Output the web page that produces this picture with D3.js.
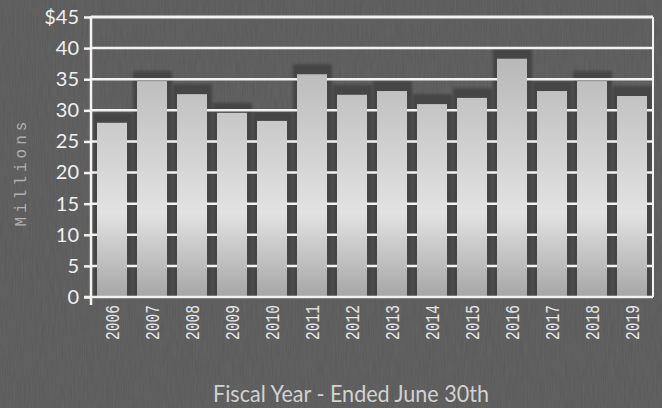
<!DOCTYPE html>
<html>
<head>
<meta charset="utf-8">
<script src="https://cdn.jsdelivr.net/npm/d3@7"></script>
<style>
    html, body { margin: 0; padding: 0; background: #585858; }
    svg { display: block; }
</style>
</head>
<body>
<svg id="chart" width="662" height="408"></svg>
<script>
// Chart data
const years = ['2006', '2007', '2008', '2009', '2010', '2011', '2012', '2013', '2014', '2015', '2016', '2017', '2018', '2019'];
const millions = [28.0, 34.7, 32.6, 29.6, 28.3, 35.8, 32.5, 33.1, 31.0, 32.0, 38.3, 33.1, 34.7, 32.3];
const yTicks = [0, 5, 10, 15, 20, 25, 30, 35, 40, 45];

const width = 662;
const height = 408;
const margin = { top: 17, right: 9, bottom: 111, left: 91 };

const svg = d3.select('#chart');

const defs = svg.append('defs');
const grad = defs.append('linearGradient')
    .attr('id', 'barGrad')
    .attr('gradientUnits', 'userSpaceOnUse')
    .attr('x1', 0).attr('y1', margin.top)
    .attr('x2', 0).attr('y2', height - margin.bottom);
grad.append('stop').attr('offset', '0%').attr('stop-color', '#adadad');
grad.append('stop').attr('offset', '70%').attr('stop-color', '#e2e2e2');
grad.append('stop').attr('offset', '100%').attr('stop-color', '#a6a6a6');

// light texture on the background
const noise = defs.append('filter').attr('id', 'noise');
noise.append('feTurbulence')
    .attr('type', 'fractalNoise')
    .attr('baseFrequency', '0.9 0.05')
    .attr('numOctaves', 2)
    .attr('seed', 3);
noise.append('feColorMatrix')
    .attr('values', '0 0 0 0 0.35  0 0 0 0 0.35  0 0 0 0 0.35  0 0 0 0.35 0');
noise.append('feComposite').attr('in2', 'SourceGraphic').attr('operator', 'in');

const blur = defs.append('filter').attr('id', 'soft');
blur.append('feGaussianBlur').attr('stdDeviation', 1.5);

svg.append('rect')
    .attr('width', width).attr('height', height)
    .attr('fill', '#595959');
svg.append('rect')
    .attr('width', width).attr('height', height)
    .attr('fill', '#595959')
    .attr('filter', 'url(#noise)')
    .attr('opacity', 0.5);

const x = d3.scaleBand()
    .domain(years)
    .range([margin.left, width - margin.right])
    .paddingInner(0.25)
    .paddingOuter(0.15);

const y = d3.scaleLinear()
    .domain([0, 45])
    .range([height - margin.bottom, margin.top]);

const gap = x.step() - x.bandwidth();

// Bar shadows (dark band around / above each bar)
svg.append('g')
    .attr('filter', 'url(#soft)')
    .selectAll('rect')
    .data(millions)
    .enter().append('rect')
    .attr('x', (d, i) => x(years[i]) - gap / 2 + 1)
    .attr('y', d => y(d) - 10)
    .attr('width', x.step() - 1)
    .attr('height', d => y(0) - y(d) + 10)
    .attr('fill', '#454545');

// Gridlines (behind bars)
svg.append('g')
    .selectAll('line')
    .data(yTicks.filter(d => d > 0))
    .enter().append('line')
    .attr('x1', margin.left)
    .attr('x2', width - margin.right)
    .attr('y1', d => y(d))
    .attr('y2', d => y(d))
    .attr('stroke', '#f2f2f2')
    .attr('stroke-width', d => d === 45 ? 3 : 2.5);

// Bars
svg.append('g')
    .selectAll('rect')
    .data(millions)
    .enter().append('rect')
    .attr('x', (d, i) => x(years[i]))
    .attr('y', d => y(d))
    .attr('width', x.bandwidth())
    .attr('height', d => y(0) - y(d))
    .attr('fill', 'url(#barGrad)');

// Frame: left axis, bottom axis, right border
const frame = svg.append('g').attr('stroke', '#f2f2f2').attr('fill', 'none');
frame.append('line')
    .attr('x1', margin.left).attr('x2', margin.left)
    .attr('y1', margin.top - 1).attr('y2', y(0) + 8)
    .attr('stroke-width', 2.5);
frame.append('line')
    .attr('x1', margin.left - 7).attr('x2', width - margin.right)
    .attr('y1', y(0)).attr('y2', y(0))
    .attr('stroke-width', 2.5);
frame.append('line')
    .attr('x1', width - margin.right).attr('x2', width - margin.right)
    .attr('y1', margin.top).attr('y2', y(0))
    .attr('stroke-width', 2);

// Y axis
const yAxis = d3.axisLeft(y)
    .tickValues(yTicks)
    .tickSize(7)
    .tickPadding(5)
    .tickFormat(d => d === 45 ? '$45' : d);
const yg = svg.append('g')
    .attr('transform', `translate(${margin.left},0)`)
    .call(yAxis);
yg.select('.domain').remove();
yg.selectAll('.tick line').attr('stroke', '#f2f2f2').attr('stroke-width', 2.5);
yg.selectAll('.tick text')
    .attr('fill', '#f0f0f0')
    .attr('font-family', 'Lato, "Open Sans", sans-serif')
    .attr('font-size', 20);

// X axis labels (rotated, condensed)
const xAxis = d3.axisBottom(x).tickSize(0).tickPadding(0);
const xg = svg.append('g')
    .attr('transform', `translate(0,${y(0)})`)
    .call(xAxis);
xg.select('.domain').remove();
xg.selectAll('.tick text')
    .attr('transform', 'rotate(-90)')
    .attr('text-anchor', 'end')
    .attr('x', -8)
    .attr('y', 0)
    .attr('dy', '0.36em')
    .attr('fill', '#e6e6e6')
    .attr('font-family', '"Liberation Mono", monospace')
    .attr('font-size', 20)
    .attr('textLength', 35)
    .attr('lengthAdjust', 'spacingAndGlyphs');

// Axis titles
svg.append('text')
    .attr('transform', `translate(26,172) rotate(-90)`)
    .attr('text-anchor', 'middle')
    .attr('fill', '#b0b0b0')
    .attr('font-family', '"Liberation Mono", monospace')
    .attr('font-size', 16)
    .attr('letter-spacing', 4)
    .text('Millions');

svg.append('text')
    .attr('x', 351)
    .attr('y', 402)
    .attr('text-anchor', 'middle')
    .attr('fill', '#d2d2d2')
    .attr('font-family', 'Lato, "Open Sans", sans-serif')
    .attr('font-size', 23)
    .attr('textLength', 276)
    .attr('lengthAdjust', 'spacingAndGlyphs')
    .text('Fiscal Year - Ended June 30th');
</script>
</body>
</html>
